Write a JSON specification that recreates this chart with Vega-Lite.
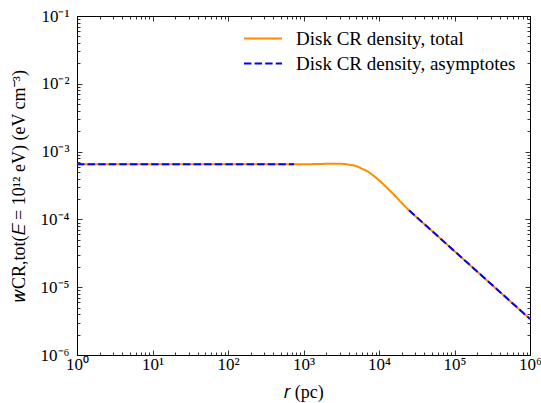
{
  "$schema": "https://vega.github.io/schema/vega-lite/v6.json",
  "width": 453,
  "height": 339,
  "autosize": {"type": "none"},
  "padding": {"left": 77, "top": 16, "right": 11, "bottom": 48},
  "background": "white",
  "config": {
    "font": "Liberation Serif, Times New Roman, serif",
    "view": {"stroke": null},
    "axis": {
      "domainColor": "black",
      "domainWidth": 1,
      "tickColor": "black",
      "tickWidth": 0.8,
      "labelFont": "Liberation Serif, Times New Roman, serif",
      "labelFontSize": 17,
      "labelColor": "black",
      "labelOverlap": false,
      "labelFlush": false,
      "titleFont": "Liberation Serif, Times New Roman, serif",
      "titleFontSize": 18,
      "titleFontWeight": "normal",
      "titleColor": "black",
      "grid": false
    },
    "legend": {
      "orient": "none",
      "legendX": 166,
      "legendY": 10,
      "title": null,
      "symbolType": "stroke",
      "symbolSize": 1444,
      "symbolStrokeWidth": 2,
      "labelFont": "Liberation Serif, Times New Roman, serif",
      "labelFontSize": 19,
      "labelColor": "black",
      "labelLimit": 400,
      "labelOffset": 13,
      "clipHeight": 25,
      "rowPadding": 0
    }
  },
  "datasets": {
    "total": [
      {"r": 1, "w": 0.00065, "series": "Disk CR density, total"},
      {"r": 10, "w": 0.00065, "series": "Disk CR density, total"},
      {"r": 100, "w": 0.00065, "series": "Disk CR density, total"},
      {"r": 500, "w": 0.00065, "series": "Disk CR density, total"},
      {"r": 1000, "w": 0.000652, "series": "Disk CR density, total"},
      {"r": 1500, "w": 0.000655, "series": "Disk CR density, total"},
      {"r": 2000, "w": 0.00066, "series": "Disk CR density, total"},
      {"r": 2500, "w": 0.000663, "series": "Disk CR density, total"},
      {"r": 3000, "w": 0.000662, "series": "Disk CR density, total"},
      {"r": 3500, "w": 0.000655, "series": "Disk CR density, total"},
      {"r": 4000, "w": 0.00064, "series": "Disk CR density, total"},
      {"r": 4500, "w": 0.000628, "series": "Disk CR density, total"},
      {"r": 5000, "w": 0.00061, "series": "Disk CR density, total"},
      {"r": 6000, "w": 0.000556, "series": "Disk CR density, total"},
      {"r": 7000, "w": 0.000512, "series": "Disk CR density, total"},
      {"r": 8000, "w": 0.000463, "series": "Disk CR density, total"},
      {"r": 10000, "w": 0.000377, "series": "Disk CR density, total"},
      {"r": 12000, "w": 0.000314, "series": "Disk CR density, total"},
      {"r": 14000, "w": 0.000265, "series": "Disk CR density, total"},
      {"r": 17000, "w": 0.000213, "series": "Disk CR density, total"},
      {"r": 20000, "w": 0.000175, "series": "Disk CR density, total"},
      {"r": 25000, "w": 0.000136, "series": "Disk CR density, total"},
      {"r": 30000, "w": 0.000113, "series": "Disk CR density, total"},
      {"r": 50000, "w": 0.000068, "series": "Disk CR density, total"},
      {"r": 100000, "w": 0.000034, "series": "Disk CR density, total"},
      {"r": 300000, "w": 0.0000113, "series": "Disk CR density, total"},
      {"r": 1000000, "w": 0.0000034, "series": "Disk CR density, total"}
    ],
    "asymptotes": [
      {"r": 1, "w": 0.00065, "segment": "inner", "series": "Disk CR density, asymptotes"},
      {"r": 750, "w": 0.00065, "segment": "inner", "series": "Disk CR density, asymptotes"},
      {"r": 25000, "w": 0.000136, "segment": "outer", "series": "Disk CR density, asymptotes"},
      {"r": 1000000, "w": 0.0000034, "segment": "outer", "series": "Disk CR density, asymptotes"}
    ]
  },
  "layer": [
    {
      "data": {"name": "total"},
      "mark": {"type": "line", "strokeWidth": 2, "interpolate": "monotone"},
      "encoding": {
        "x": {
          "field": "r",
          "type": "quantitative",
          "scale": {"type": "log", "domain": [1, 1000000], "nice": false},
          "axis": {
            "orient": "bottom",
            "title": "𝑟 (pc)",
            "titlePadding": 9,
            "values": [1,2,3,4,5,6,7,8,9,10,20,30,40,50,60,70,80,90,100,200,300,400,500,600,700,800,900,1000,2000,3000,4000,5000,6000,7000,8000,9000,10000,20000,30000,40000,50000,60000,70000,80000,90000,100000,200000,300000,400000,500000,600000,700000,800000,900000,1000000],
            "tickSize": {"condition": {"test": "abs(log(datum.value)/LN10 - round(log(datum.value)/LN10)) < 1e-6", "value": -5}, "value": -3},
            "labelPadding": 6,
            "labelExpr": "abs(log(datum.value)/LN10 - round(log(datum.value)/LN10)) < 1e-6 ? '10' + ['⁰','¹','²','³','⁴','⁵','⁶'][round(log(datum.value)/LN10)] : ''"
          }
        },
        "y": {
          "field": "w",
          "type": "quantitative",
          "scale": {"type": "log", "domain": [0.000001, 0.1], "nice": false},
          "axis": {
            "orient": "left",
            "title": "𝑤CR,tot(𝐸 = 10¹² eV) (eV cm⁻³)",
            "titlePadding": 12,
            "values": [0.000001,0.000002,0.000003,0.000004,0.000005,0.000006,0.000007,0.000008,0.000009,0.00001,0.00002,0.00003,0.00004,0.00005,0.00006,0.00007,0.00008,0.00009,0.0001,0.0002,0.0003,0.0004,0.0005,0.0006,0.0007,0.0008,0.0009,0.001,0.002,0.003,0.004,0.005,0.006,0.007,0.008,0.009,0.01,0.02,0.03,0.04,0.05,0.06,0.07,0.08,0.09,0.1],
            "tickSize": {"condition": {"test": "abs(log(datum.value)/LN10 - round(log(datum.value)/LN10)) < 1e-6", "value": -5}, "value": -3},
            "labelPadding": 13,
            "labelExpr": "abs(log(datum.value)/LN10 - round(log(datum.value)/LN10)) < 1e-6 ? '10⁻' + ['⁰','¹','²','³','⁴','⁵','⁶'][-round(log(datum.value)/LN10)] : ''"
          }
        },
        "color": {
          "field": "series",
          "type": "nominal",
          "scale": {"domain": ["Disk CR density, total", "Disk CR density, asymptotes"], "range": ["#ff8c00", "#0000ff"]}
        },
        "strokeDash": {
          "field": "series",
          "type": "nominal",
          "scale": {"domain": ["Disk CR density, total", "Disk CR density, asymptotes"], "range": [[1, 0], [7.4, 3.2]]}
        }
      }
    },
    {
      "data": {"name": "asymptotes"},
      "mark": {"type": "line", "strokeWidth": 2},
      "encoding": {
        "x": {
          "field": "r",
          "type": "quantitative",
          "scale": {"type": "log", "domain": [1, 1000000], "nice": false},
          "axis": {
            "orient": "top",
            "title": null,
            "labels": false,
            "values": [1,2,3,4,5,6,7,8,9,10,20,30,40,50,60,70,80,90,100,200,300,400,500,600,700,800,900,1000,2000,3000,4000,5000,6000,7000,8000,9000,10000,20000,30000,40000,50000,60000,70000,80000,90000,100000,200000,300000,400000,500000,600000,700000,800000,900000,1000000],
            "tickSize": {"condition": {"test": "abs(log(datum.value)/LN10 - round(log(datum.value)/LN10)) < 1e-6", "value": -5}, "value": -3}
          }
        },
        "y": {
          "field": "w",
          "type": "quantitative",
          "scale": {"type": "log", "domain": [0.000001, 0.1], "nice": false},
          "axis": {
            "orient": "right",
            "title": null,
            "labels": false,
            "values": [0.000001,0.000002,0.000003,0.000004,0.000005,0.000006,0.000007,0.000008,0.000009,0.00001,0.00002,0.00003,0.00004,0.00005,0.00006,0.00007,0.00008,0.00009,0.0001,0.0002,0.0003,0.0004,0.0005,0.0006,0.0007,0.0008,0.0009,0.001,0.002,0.003,0.004,0.005,0.006,0.007,0.008,0.009,0.01,0.02,0.03,0.04,0.05,0.06,0.07,0.08,0.09,0.1],
            "tickSize": {"condition": {"test": "abs(log(datum.value)/LN10 - round(log(datum.value)/LN10)) < 1e-6", "value": -5}, "value": -3}
          }
        },
        "detail": {"field": "segment", "type": "nominal"},
        "color": {
          "field": "series",
          "type": "nominal",
          "scale": {"domain": ["Disk CR density, total", "Disk CR density, asymptotes"], "range": ["#ff8c00", "#0000ff"]}
        },
        "strokeDash": {
          "field": "series",
          "type": "nominal",
          "scale": {"domain": ["Disk CR density, total", "Disk CR density, asymptotes"], "range": [[1, 0], [7.4, 3.2]]}
        }
      }
    }
  ],
  "resolve": {"axis": {"x": "independent", "y": "independent"}}
}
